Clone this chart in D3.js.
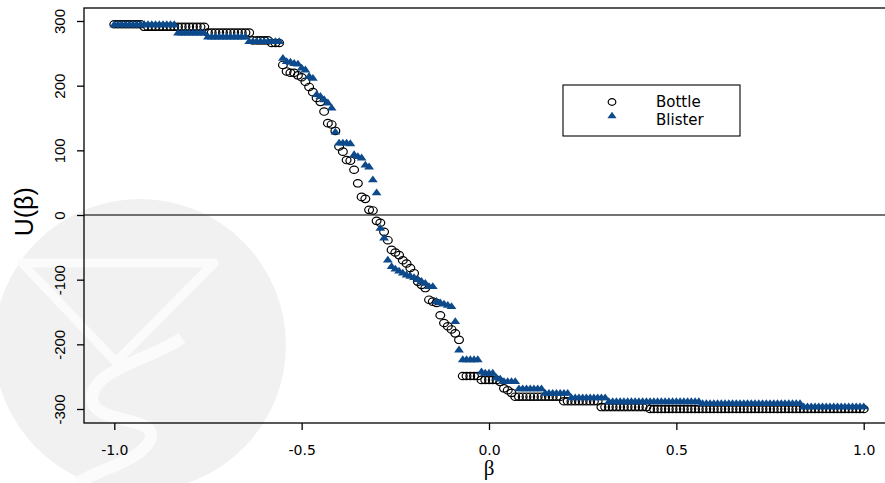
<!DOCTYPE html>
<html>
<head>
<meta charset="utf-8">
<script src="https://cdn.jsdelivr.net/npm/d3@7"></script>
<style>
  body { margin: 0; background: #fff; }
  svg { display: block; }
</style>
</head>
<body>
<div id="vis"></div>
<script>
const WIDTH = 885, HEIGHT = 483;
const BOX = {left: 84, right: 887, top: 8, bottom: 423};

// beta grid
const beta = [
  -1.00,-0.99,-0.98,-0.97,-0.96,-0.95,-0.94,-0.93,-0.92,-0.91,
  -0.90,-0.89,-0.88,-0.87,-0.86,-0.85,-0.84,-0.83,-0.82,-0.81,
  -0.80,-0.79,-0.78,-0.77,-0.76,-0.75,-0.74,-0.73,-0.72,-0.71,
  -0.70,-0.69,-0.68,-0.67,-0.66,-0.65,-0.64,-0.63,-0.62,-0.61,
  -0.60,-0.59,-0.58,-0.57,-0.56,-0.55,-0.54,-0.53,-0.52,-0.51,
  -0.50,-0.49,-0.48,-0.47,-0.46,-0.45,-0.44,-0.43,-0.42,-0.41,
  -0.40,-0.39,-0.38,-0.37,-0.36,-0.35,-0.34,-0.33,-0.32,-0.31,
  -0.30,-0.29,-0.28,-0.27,-0.26,-0.25,-0.24,-0.23,-0.22,-0.21,
  -0.20,-0.19,-0.18,-0.17,-0.16,-0.15,-0.14,-0.13,-0.12,-0.11,
  -0.10,-0.09,-0.08,-0.07,-0.06,-0.05,-0.04,-0.03,-0.02,-0.01,
   0.00, 0.01, 0.02, 0.03, 0.04, 0.05, 0.06, 0.07, 0.08, 0.09,
   0.10, 0.11, 0.12, 0.13, 0.14, 0.15, 0.16, 0.17, 0.18, 0.19,
   0.20, 0.21, 0.22, 0.23, 0.24, 0.25, 0.26, 0.27, 0.28, 0.29,
   0.30, 0.31, 0.32, 0.33, 0.34, 0.35, 0.36, 0.37, 0.38, 0.39,
   0.40, 0.41, 0.42, 0.43, 0.44, 0.45, 0.46, 0.47, 0.48, 0.49,
   0.50, 0.51, 0.52, 0.53, 0.54, 0.55, 0.56, 0.57, 0.58, 0.59,
   0.60, 0.61, 0.62, 0.63, 0.64, 0.65, 0.66, 0.67, 0.68, 0.69,
   0.70, 0.71, 0.72, 0.73, 0.74, 0.75, 0.76, 0.77, 0.78, 0.79,
   0.80, 0.81, 0.82, 0.83, 0.84, 0.85, 0.86, 0.87, 0.88, 0.89,
   0.90, 0.91, 0.92, 0.93, 0.94, 0.95, 0.96, 0.97, 0.98, 0.99,
   1.00
];

const bottle = [
  295,295,295,295,295,295,295,295,291,291,
  291,291,291,291,291,291,291,291,291,291,
  291,291,291,291,291,282,282,282,282,282,
  282,282,282,282,282,282,282,270,270,270,
  270,270,266,266,266,232,222,220,220,216,
  213,206,198,190,181,175,160,142,140,130,
  106,98,85,84,70,49,28,25,8,7,
  -9,-12,-26,-39,-54,-58,-62,-70,-75,-82,
  -90,-103,-108,-113,-131,-134,-136,-155,-167,-172,
  -177,-183,-193,-249,-249,-249,-249,-249,-255,-255,
  -255,-255,-255,-258,-268,-271,-275,-281,-281,-281,
  -281,-281,-281,-281,-281,-281,-281,-281,-281,-281,
  -288,-288,-288,-288,-288,-288,-288,-288,-288,-288,
  -297,-297,-297,-297,-297,-297,-297,-297,-297,-297,
  -297,-297,-297,-300,-300,-300,-300,-300,-300,-300,
  -300,-300,-300,-300,-300,-300,-300,-300,-300,-300,
  -300,-300,-300,-300,-300,-300,-300,-300,-300,-300,
  -300,-300,-300,-300,-300,-300,-300,-300,-300,-300,
  -300,-300,-300,-300,-300,-300,-300,-300,-300,-300,
  -300,-300,-300,-300,-300,-300,-300,-300,-300,-300,
  -300
];

const blister = [
  294,294,294,294,294,294,294,294,294,294,
  294,294,294,294,294,294,294,281,281,281,
  281,281,281,281,281,275,275,275,275,275,
  275,275,275,275,275,275,268,268,268,268,
  268,268,268,268,268,242,237,236,234,233,
  227,224,214,211,186,183,178,173,165,128,
  111,111,111,110,93,90,88,77,74,54,
  34,-21,-36,-70,-80,-84,-87,-90,-93,-95,
  -97,-100,-103,-106,-111,-111,-134,-136,-138,-140,
  -142,-165,-209,-224,-224,-224,-224,-224,-243,-245,
  -245,-245,-252,-254,-258,-258,-258,-258,-269,-269,
  -269,-269,-269,-269,-269,-276,-276,-276,-276,-276,
  -276,-276,-283,-283,-283,-283,-283,-283,-283,-283,
  -283,-283,-289,-289,-289,-289,-289,-289,-289,-289,
  -289,-289,-289,-289,-289,-289,-289,-289,-289,-289,
  -289,-289,-289,-289,-289,-289,-289,-292,-292,-292,
  -292,-292,-292,-292,-292,-292,-292,-292,-292,-292,
  -292,-292,-292,-292,-292,-292,-292,-292,-292,-292,
  -292,-292,-292,-292,-297,-297,-297,-297,-297,-297,
  -297,-297,-297,-297,-297,-297,-297,-297,-297,-297,
  -297
];

const xTicks = [-1.0, -0.5, 0.0, 0.5, 1.0];
const yTicks = [-300, -200, -100, 0, 100, 200, 300];
const seriesNames = ["Bottle", "Blister"];
const BLUE = "#0c4a8c";

const svg = d3.select("#vis").append("svg")
  .attr("width", WIDTH)
  .attr("height", HEIGHT);

// faint watermark behind the plot
const wm = svg.append("g");
wm.append("circle").attr("cx", 140).attr("cy", 345).attr("r", 146).attr("fill", "#f1f1f1");
wm.append("path")
  .attr("d", "M22,263 L214,263 L116,362 Z")
  .attr("fill", "none").attr("stroke", "#fbfbfb").attr("stroke-width", 9)
  .attr("stroke-linejoin", "round");
wm.append("path")
  .attr("d", "M182,338 C150,360 90,370 92,400 C95,425 160,415 150,440 C140,462 95,470 78,483")
  .attr("fill", "none").attr("stroke", "#fbfbfb").attr("stroke-width", 12);

const x = d3.scaleLinear().domain([-1, 1]).range([114.3, 863.7]);
const y = d3.scaleLinear().domain([-300, 300]).range([409, 21]);

// zero line
svg.append("line")
  .attr("x1", BOX.left).attr("x2", BOX.right)
  .attr("y1", y(0)).attr("y2", y(0))
  .attr("stroke", "#444").attr("stroke-width", 1.5);

// points
svg.append("g").selectAll("ellipse")
  .data(beta.map((b, i) => ({b: b, v: bottle[i]})))
  .enter().append("ellipse")
    .attr("cx", d => x(d.b))
    .attr("cy", d => y(d.v))
    .attr("rx", 4.4).attr("ry", 3.7)
    .attr("fill", "none")
    .attr("stroke", "#000")
    .attr("stroke-width", 1.2);

const tri = d3.symbol(d3.symbolTriangle, 30);
svg.append("g").selectAll("path")
  .data(beta.map((b, i) => ({b: b, v: blister[i]})))
  .enter().append("path")
    .attr("d", tri)
    .attr("transform", d => "translate(" + x(d.b) + "," + y(d.v) + ") scale(1.18,0.95)")
    .attr("fill", BLUE);

// box
svg.append("rect")
  .attr("x", BOX.left).attr("y", BOX.top)
  .attr("width", BOX.right - BOX.left).attr("height", BOX.bottom - BOX.top)
  .attr("fill", "none").attr("stroke", "#000").attr("stroke-width", 1.3);

// x axis
const gx = svg.append("g")
  .attr("transform", "translate(0," + BOX.bottom + ")")
  .call(d3.axisBottom(x).tickValues(xTicks).tickSize(7).tickFormat(d => d.toFixed(1)));
gx.select(".domain").remove();
gx.selectAll("line").attr("stroke", "#000").attr("stroke-width", 1.3);
gx.selectAll("text")
  .attr("y", 32).attr("dy", null)
  .attr("fill", "#000")
  .style("font-family", "'DejaVu Sans', sans-serif")
  .style("font-size", "14px");

// y axis
const gy = svg.append("g")
  .attr("transform", "translate(" + BOX.left + ",0)")
  .call(d3.axisLeft(y).tickValues(yTicks).tickSize(7).tickFormat(d => String(d)));
gy.select(".domain").remove();
gy.selectAll("line").attr("stroke", "#000").attr("stroke-width", 1.3);
gy.selectAll("text")
  .attr("x", null).attr("dy", null)
  .attr("transform", "translate(-19,0) rotate(-90)")
  .attr("text-anchor", "middle")
  .attr("fill", "#000")
  .style("font-family", "'Liberation Sans', Arial, sans-serif")
  .style("font-size", "15px");

// axis titles
svg.append("text")
  .attr("x", x(0)).attr("y", 475)
  .attr("text-anchor", "middle")
  .style("font-family", "'Liberation Serif', serif")
  .style("font-size", "21px")
  .text("β");

svg.append("text")
  .attr("transform", "translate(33," + y(5) + ") rotate(-90)")
  .attr("text-anchor", "middle")
  .style("font-family", "'Liberation Sans', Arial, sans-serif")
  .style("font-size", "25px")
  .text("U(β)");

// legend
const lg = svg.append("g");
lg.append("rect")
  .attr("x", 563).attr("y", 85).attr("width", 177).attr("height", 51)
  .attr("fill", "#fff").attr("stroke", "#000").attr("stroke-width", 1.1);
lg.append("ellipse")
  .attr("cx", 612).attr("cy", 102).attr("rx", 3.8).attr("ry", 3.3)
  .attr("fill", "none").attr("stroke", "#000").attr("stroke-width", 1.2);
lg.append("path")
  .attr("d", tri)
  .attr("transform", "translate(612,116) scale(1.1,0.9)")
  .attr("fill", BLUE);
lg.selectAll("text.lab")
  .data(seriesNames)
  .enter().append("text")
    .attr("class", "lab")
    .attr("x", 656)
    .attr("y", (d, i) => 107 + i * 18)
    .style("font-family", "'DejaVu Sans', sans-serif")
    .style("font-size", "15px")
    .text(d => d);
</script>
</body>
</html>
